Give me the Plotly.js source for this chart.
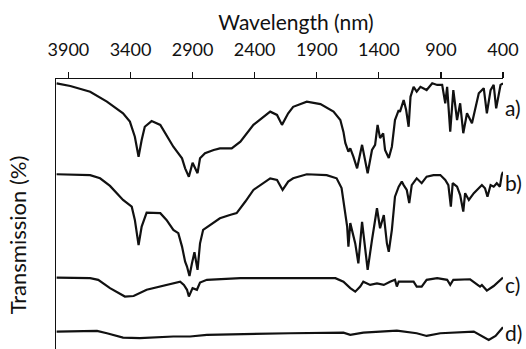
<!DOCTYPE html>
<html>
<head>
<meta charset="utf-8">
<script src="https://cdn.plot.ly/plotly-3.0.1.min.js"></script>
<style>
  html, body { margin: 0; padding: 0; overflow: hidden; background: #fff; }
  #chart { width: 526px; height: 391px; }
</style>
</head>
<body>
<div id="chart"></div>
<script>
// FTIR-style spectra, offset vertically; x = wavenumber position, y = transmission (arb. offset %)
const wnA = [3995,3885,3725,3590,3460,3405,3365,3335,3310,3285,3230,3160,3055,2985,2960,2930,2900,2860,2840,2800,2730,2680,2585,2515,2410,2275,2220,2180,2130,2090,1980,1870,1765,1710,1685,1670,1645,1630,1605,1575,1535,1510,1490,1455,1430,1410,1390,1365,1350,1320,1295,1270,1240,1230,1200,1180,1160,1145,1120,1095,1065,1015,970,930,890,865,850,825,800,770,745,720,690,650,595,555,530,500,475,455,420,400];
const tA  = [98.4,97.4,95.3,91.6,87.3,84.2,78.6,71.2,77.4,82.3,84.4,83.0,74.9,70.6,66.9,63.8,69.0,65.1,70.6,72.5,73.7,74.3,74.3,76.8,83.0,87.9,86.7,83.0,87.3,89.7,91.6,90.7,87.9,84.8,80.4,76.3,73.1,74.3,71.2,66.9,75.6,70.0,65.1,73.7,75.6,83.0,78.1,79.9,73.7,70.7,74.9,84.8,88.5,87.8,92.2,88.5,82.3,93.4,97.1,95.3,97.1,95.9,98.4,97.8,97.8,91.0,97.1,80.5,95.9,84.8,91.0,79.9,87.3,83.6,94.7,96.6,87.3,95.9,97.8,89.1,97.8,98.4];

const wnB = [3995,3725,3645,3565,3460,3390,3365,3335,3310,3270,3160,3110,3055,3015,2985,2960,2945,2925,2905,2885,2860,2840,2815,2760,2730,2680,2600,2545,2475,2410,2275,2220,2175,2130,2090,1980,1820,1740,1700,1680,1655,1645,1630,1590,1565,1535,1510,1490,1455,1415,1390,1360,1335,1320,1295,1270,1240,1215,1200,1175,1155,1135,1095,1055,1015,960,905,865,840,820,805,770,745,720,705,675,635,595,570,545,525,500,475,450,425,410,400];
const tB  = [64.7,64.4,63.2,60.4,55.2,52.7,47.8,38.5,45.3,50.5,50.3,47.8,44.1,42.9,37.9,32.3,30.5,27.0,31.7,35.8,29.3,39.1,44.1,45.9,47.1,48.4,49.6,50.3,54.6,58.9,63.2,62.6,58.9,62.0,63.2,64.7,64.4,63.2,59.6,53.3,45.3,37.9,46.6,39.1,31.7,47.1,36.7,29.3,40.4,52.1,44.7,49.6,39.1,36.0,44.1,56.4,60.1,62.0,60.7,58.9,54.0,60.7,63.2,61.4,63.8,64.4,64.4,62.6,60.7,52.7,61.4,60.1,57.0,50.9,57.7,55.2,57.7,59.5,60.7,59.5,56.4,60.7,60.1,61.4,60.1,64.4,65.6];

const wnC = [3995,3725,3660,3565,3445,3375,3270,3110,3000,2970,2945,2930,2900,2865,2840,2785,2515,2115,1750,1685,1630,1590,1550,1525,1470,1415,1360,1310,1270,1255,1240,1120,1095,1055,1015,930,850,825,800,665,625,585,570,530,475,420,400];
const tC  = [26.4,26.2,25.6,22.5,19.4,19.6,21.9,23.7,24.9,23.7,21.9,19.4,22.5,21.9,24.6,25.6,26.2,26.2,26.2,24.9,22.5,21.2,23.1,24.9,23.7,24.3,23.7,24.9,25.6,23.1,24.9,24.9,23.1,23.1,25.6,26.2,25.6,23.7,25.6,25.8,24.3,23.1,23.7,21.6,23.3,25.6,26.4];

const wnD = [3995,3670,3590,3460,3325,3055,2920,2785,2115,1685,1630,1525,1255,1095,1015,905,635,585,515,460,420,400];
const tD  = [6.4,6.7,5.8,4.2,4.0,4.6,4.6,5.2,5.8,6.0,5.2,6.0,6.8,5.8,4.8,5.8,6.4,5.2,3.3,4.8,7.0,8.0];

const seriesNames = ['a)', 'b)', 'c)', 'd)'];
const labelY = [89.6, 61.5, 23.7, 5.9];
const xTicks = [3900, 3400, 2900, 2400, 1900, 1400, 900, 400];

const FONT = 'Lato, "Open Sans", sans-serif';
const INK = '#111';

const xs = [wnA, wnB, wnC, wnD];
const ys = [tA, tB, tC, tD];

const traces = xs.map((x, i) => ({
  x: x, y: ys[i], name: seriesNames[i],
  type: 'scatter', mode: 'lines',
  line: { color: INK, width: 2.2, shape: 'linear' },
  hoverinfo: 'skip'
}));

const annotations = seriesNames.map((s, i) => ({
  x: 400, xref: 'x', y: labelY[i], yref: 'y',
  text: s, showarrow: false, xanchor: 'left', yanchor: 'middle', xshift: 0,
  font: { family: FONT, size: 21, color: INK }
}));

const layout = {
  width: 526, height: 391,
  margin: { l: 56, r: 23, t: 79, b: 0 },
  paper_bgcolor: '#fff', plot_bgcolor: '#fff',
  showlegend: false,
  title: {
    text: 'Wavelength (nm)',
    font: { family: FONT, size: 21, color: INK },
    xref: 'paper', x: 0.537, xanchor: 'center',
    yref: 'container', y: 1 - 23 / 391, yanchor: 'middle'
  },
  xaxis: {
    side: 'top', range: [4000, 400],
    tickvals: xTicks, ticktext: xTicks.map(String),
    ticks: 'outside', ticklen: 6, tickwidth: 1.2, tickcolor: INK,
    ticklabelstandoff: 8,
    showline: true, linecolor: INK, linewidth: 1.5,
    showgrid: false, zeroline: false,
    tickfont: { family: FONT, size: 18, color: INK }
  },
  yaxis: {
    range: [-15.6, 100],
    showline: true, linecolor: INK, linewidth: 1.5,
    showticklabels: false, ticks: '',
    showgrid: false, zeroline: false,
    title: { text: 'Transmission (%)', standoff: 22, font: { family: FONT, size: 22, color: INK } }
  },
  annotations: annotations
};

Plotly.newPlot('chart', traces, layout, { staticPlot: true, displayModeBar: false });
</script>
</body>
</html>
